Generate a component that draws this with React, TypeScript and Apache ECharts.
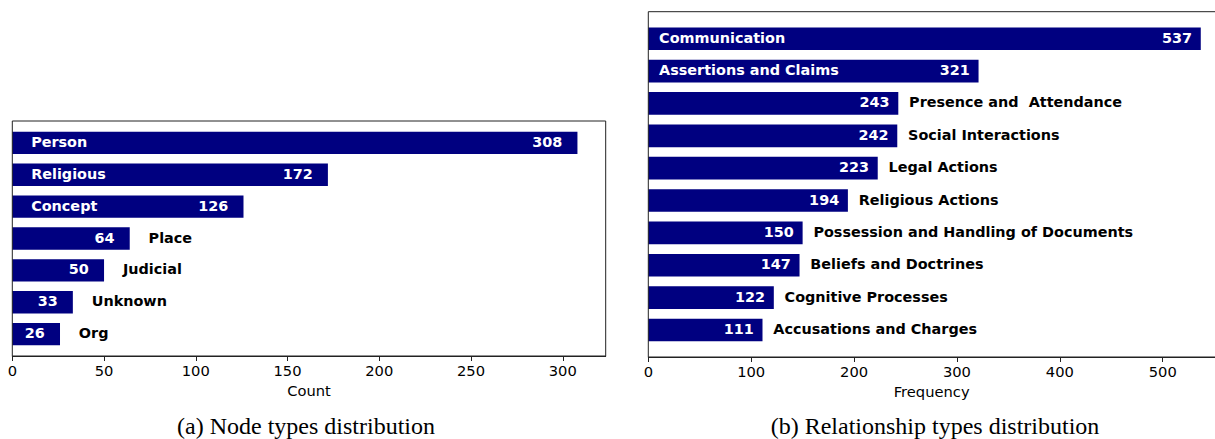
import React, { useEffect, useRef } from "react";
import * as echarts from "echarts";

const nodeCategories = ["Person", "Religious", "Concept", "Place", "Judicial", "Unknown", "Org"];
const nodeCounts = [308, 172, 126, 64, 50, 33, 26];
const nodeNameInside = [true, true, true, false, false, false, false];

const relCategories = [
  "Communication",
  "Assertions and Claims",
  "Presence and  Attendance",
  "Social Interactions",
  "Legal Actions",
  "Religious Actions",
  "Possession and Handling of Documents",
  "Beliefs and Doctrines",
  "Cognitive Processes",
  "Accusations and Charges",
];
const relCounts = [537, 321, 243, 242, 223, 194, 150, 147, 122, 111];
const relNameInside = [true, true, false, false, false, false, false, false, false, false];

const nodeAxisTitle = "Count";
const relAxisTitle = "Frequency";
const nodeCaption = "(a) Node types distribution";
const relCaption = "(b) Relationship types distribution";

const SANS = "DejaVu Sans";
const NAVY = "#000080";
const FRAME = "#222222";

function App() {
  const ref = useRef<HTMLDivElement>(null);

  useEffect(() => {
    if (!ref.current) return;
    const chart = echarts.init(ref.current, null, { renderer: "svg" });

    const PAGE_W = 1215;
    // layout (px)
    const L = { left: 12.3, top: 121, width: 593.4, bottom: 356 };
    const R = { left: 648.3, top: 11.7, width: 580.1, bottom: 357 };
    const nodeMax = Math.max(...nodeCounts) * 1.05;
    const relFullMax = Math.max(...relCounts) * 1.05;
    // right panel is cut by the page edge: keep only the visible part of the scale
    const rVisibleW = PAGE_W - R.left;
    const relMax = (relFullMax * rVisibleW) / R.width;

    const frameInset = (top: number, bottom: number, n: number) => {
      const h = bottom - top;
      const units = (n - 1 + 0.7) * 1.1;
      const per = h / units;
      const inner = n * per;
      return { inset: (h - inner) / 2, inner };
    };
    const lf = frameInset(L.top, L.bottom, nodeCategories.length);
    const rf = frameInset(R.top, R.bottom, relCategories.length);

    const xAxisCommon = (name: string) => ({
      type: "value" as const,
      min: 0,
      name,
      nameLocation: "middle" as const,
      nameGap: 23,
      nameTextStyle: { fontFamily: SANS, fontSize: 14.7, color: "#000" },
      axisLine: { show: true, lineStyle: { color: FRAME, width: 1 } },
      axisTick: { show: true, length: 5, lineStyle: { color: FRAME, width: 1 } },
      axisLabel: {
        fontFamily: SANS,
        fontSize: 14.7,
        color: "#000",
        margin: 7,
        showMaxLabel: false,
      },
      splitLine: { show: false },
    });

    const yAxisCommon = (data: string[], gridIndex: number) => ({
      type: "category" as const,
      data,
      gridIndex,
      inverse: true,
      axisLine: { show: false },
      axisTick: { show: false },
      axisLabel: { show: false },
      splitLine: { show: false },
    });

    const labelStyle = {
      fontFamily: SANS,
      fontSize: 14.4,
      fontWeight: "bold" as const,
      opacity: 1,
      textBorderWidth: 0,
      offset: [0, -1],
    };

    const nameSeries = (
      cats: string[],
      vals: number[],
      inside: boolean[],
      idx: number
    ) => ({
      type: "scatter" as const,
      xAxisIndex: idx,
      yAxisIndex: idx,
      symbolSize: 1,
      itemStyle: { color: "rgba(0,0,0,0)" },
      z: 5,
      silent: true,
      data: cats.map((c, i) => ({
        name: c,
        value: [inside[i] ? 10 : vals[i] + 10, c],
        label: {
          show: true,
          position: "right",
          distance: 0,
          formatter: c,
          color: inside[i] ? "#ffffff" : "#000000",
          ...labelStyle,
        },
      })),
    });

    const valueSeries = (cats: string[], vals: number[], idx: number) => ({
      type: "scatter" as const,
      xAxisIndex: idx,
      yAxisIndex: idx,
      symbolSize: 1,
      itemStyle: { color: "rgba(0,0,0,0)" },
      z: 5,
      silent: true,
      data: cats.map((c, i) => ({
        name: c,
        value: [vals[i] - 8, c],
        label: {
          show: true,
          position: "left",
          distance: 0,
          formatter: String(vals[i]),
          color: "#ffffff",
          ...labelStyle,
        },
      })),
    });

    chart.setOption({
      animation: false,
      backgroundColor: "#ffffff",
      grid: [
        { left: L.left, top: L.top + lf.inset, width: L.width, height: lf.inner },
        { left: R.left, top: R.top + rf.inset, width: rVisibleW, height: rf.inner },
      ],
      xAxis: [
        { ...xAxisCommon(nodeAxisTitle), gridIndex: 0, max: nodeMax, interval: 50, offset: lf.inset },
        { ...xAxisCommon(relAxisTitle), gridIndex: 1, max: relMax, interval: 100, offset: rf.inset },
      ],
      yAxis: [yAxisCommon(nodeCategories, 0), yAxisCommon(relCategories, 1)],
      series: [
        {
          type: "bar",
          xAxisIndex: 0,
          yAxisIndex: 0,
          data: nodeCounts,
          barCategoryGap: "30%",
          itemStyle: { color: NAVY },
          silent: true,
        },
        nameSeries(nodeCategories, nodeCounts, nodeNameInside, 0),
        valueSeries(nodeCategories, nodeCounts, 0),
        {
          type: "bar",
          xAxisIndex: 1,
          yAxisIndex: 1,
          data: relCounts,
          barCategoryGap: "30%",
          itemStyle: { color: NAVY },
          silent: true,
        },
        nameSeries(relCategories, relCounts, relNameInside, 1),
        valueSeries(relCategories, relCounts, 1),
      ],
      graphic: [
        {
          type: "rect",
          silent: true,
          z: 10,
          shape: { x: L.left, y: L.top, width: L.width, height: L.bottom - L.top },
          style: { fill: "none", stroke: FRAME, lineWidth: 1 },
        },
        {
          type: "rect",
          silent: true,
          z: 10,
          shape: { x: R.left, y: R.top, width: R.width, height: R.bottom - R.top },
          style: { fill: "none", stroke: FRAME, lineWidth: 1 },
        },
        {
          type: "text",
          x: 306,
          y: 426,
          silent: true,
          style: {
            text: nodeCaption,
            fontFamily: "Liberation Serif",
            fontSize: 24,
            fill: "#000",
            align: "center",
            verticalAlign: "middle",
          },
        },
        {
          type: "text",
          x: 935,
          y: 426,
          silent: true,
          style: {
            text: relCaption,
            fontFamily: "Liberation Serif",
            fontSize: 24,
            fill: "#000",
            align: "center",
            verticalAlign: "middle",
          },
        },
      ],
    });

    return () => chart.dispose();
  }, []);

  return (
    <div
      ref={ref}
      style={{ position: "absolute", left: 0, top: 0, width: 1215, height: 439 }}
    />
  );
}

export default App;
